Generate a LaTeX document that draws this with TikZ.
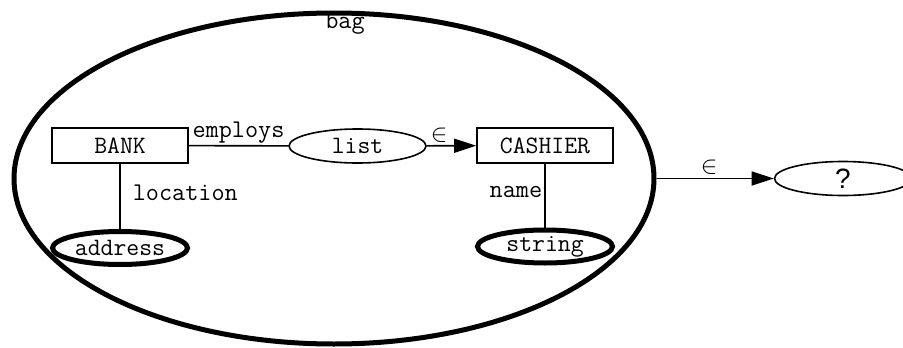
\documentclass[tikz,border=0pt]{standalone}
\usepackage{fontspec}
\newfontfamily\sansq{Liberation Sans}
\usetikzlibrary{arrows.meta,shapes.geometric}
\begin{document}
\begin{tikzpicture}[x=1pt,y=-1pt,
  lbl/.style={font=\ttfamily\fontsize{25.5}{27}\selectfont, inner sep=0pt},
  elbl/.style={font=\fontsize{24}{26}\selectfont, inner sep=0pt},
  entbox/.style={draw, line width=1.6pt, minimum width=136pt, minimum height=35pt, inner sep=0pt, font=\ttfamily\fontsize{25}{27}\selectfont},
  thinell/.style={draw, ellipse, line width=1.6pt, minimum width=137pt, minimum height=34pt, inner sep=0pt, font=\ttfamily\fontsize{25}{27}\selectfont},
  thickell/.style={draw, ellipse, line width=5pt, minimum width=135pt, minimum height=33pt, inner sep=0pt, font=\ttfamily\fontsize{25}{27}\selectfont},
  conn/.style={line width=1.6pt},
  arr/.style={line width=1.6pt, -{Triangle[length=22pt,width=14pt]}}]
\useasboundingbox (0,0) rectangle (903,348);
\node[draw, ellipse, line width=5pt, minimum width=640pt, minimum height=331pt, inner sep=0pt] (bag) at (334,178.5) {};
\node[lbl] (baglbl) at (345,24) {bag};
\node[entbox] (bank) at (120,145.5) {BANK};
\node[thinell] (list) at (357.5,146) {list};
\node[entbox] (cashier) at (545,145.5) {CASHIER};
\node[thickell] (address) at (120,248) {address};
\node[thickell] (string) at (545,246.5) {string};
\node[draw, ellipse, line width=1.6pt, minimum width=137pt, minimum height=34pt, inner sep=0pt, font=\sansq\fontsize{28}{30}\selectfont] (q) at (843,178.5) {?};
\draw[conn] (bank) -- node[lbl, above=2pt] {employs} (list);
\draw[arr] (list) -- node[elbl, above=3pt, pos=0.25] {$\in$} (cashier);
\draw[conn] (bank) -- node[lbl, right=12pt, pos=0.45] {location} (address);
\draw[conn] (cashier) -- node[lbl, left=2pt, pos=0.45] {name} (string);
\draw[arr] (bag.east) -- node[elbl, above=3pt, pos=0.45] {$\in$} (q);
\end{tikzpicture}
\end{document}
